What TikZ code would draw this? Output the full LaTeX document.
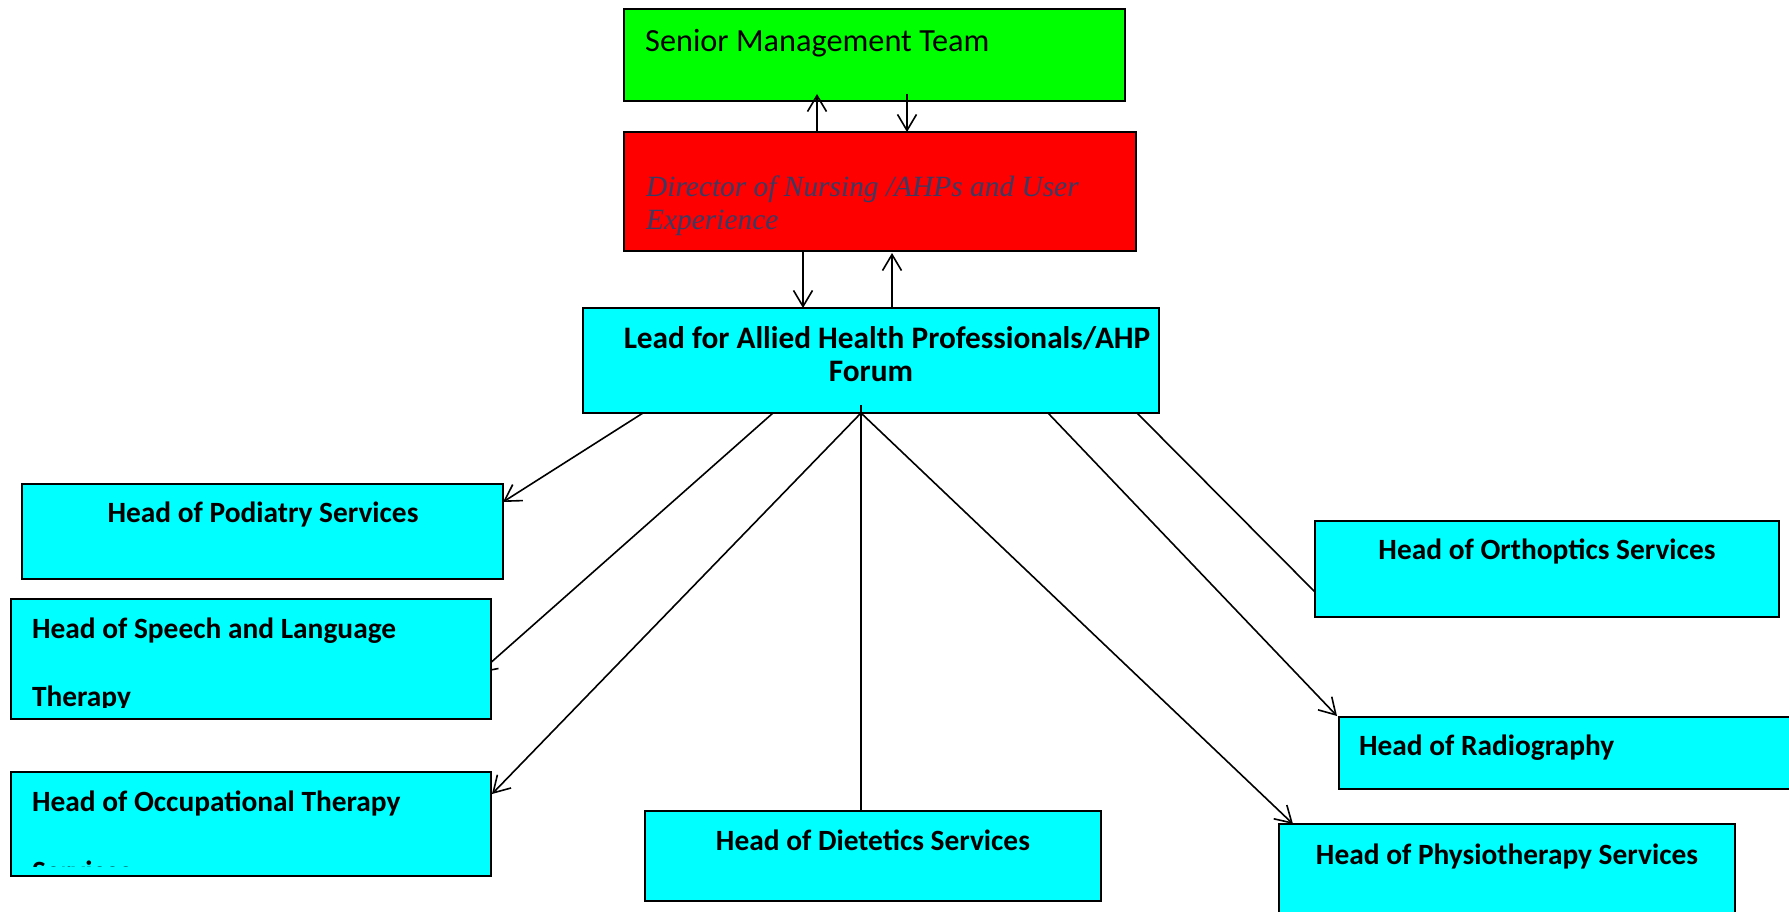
\documentclass[tikz,border=0pt]{standalone}
\usepackage{fontspec}
\setmainfont{Carlito}
\newfontfamily\dirfont{Liberation Serif}
\usetikzlibrary{arrows.meta}
\definecolor{boxgreen}{RGB}{0,255,0}
\definecolor{boxred}{RGB}{255,0,0}
\definecolor{boxcyan}{RGB}{0,255,255}
\definecolor{dirtext}{RGB}{55,60,100}
\begin{document}
\begin{tikzpicture}[x=1pt,y=-1pt,
  box/.style={draw=black, line width=2.2pt, anchor=north west, inner sep=0pt, outer sep=0pt},
  cbox/.style={box, fill=boxcyan},
  lbl/.style={inner sep=0pt, outer sep=0pt, font=\fontsize{29.4}{35}\selectfont\bfseries},
  conn/.style={line width=1.6pt, draw=black},
  arr/.style={conn, -{Straight Barb[length=16pt,width=19pt,line width=1.6pt]}},
]
\useasboundingbox (0,0) rectangle (1789,912);
\clip (0,0) rectangle (1789,912);

% top boxes
\node[box, fill=boxgreen, minimum width=501pt, minimum height=92pt] (smt) at (624,9) {};
\node[box, fill=boxred, minimum width=512pt, minimum height=119pt] (dir) at (624,132) {};
\node[cbox, minimum width=576pt, minimum height=105pt] (lead) at (583,308) {};

\node[inner sep=0pt, anchor=base west, font=\fontsize{32.3}{38}\selectfont] (smtT) at (645,52) {Senior Management Team};
\node[inner sep=0pt, anchor=base west, align=left, text=dirtext,
      font=\dirfont\itshape\fontsize{29.4}{33}\selectfont] (dirT) at (646,230) {Director of Nursing /AHPs and User\\Experience};
\node[lbl, anchor=base, align=center, font=\fontsize{31.3}{33}\selectfont\bfseries] (leadT) at (871,381) {\hspace*{32pt}Lead for Allied Health Professionals/AHP\\Forum};

% speech connector drawn beneath its box
\coordinate (spTip) at (479,673);
\draw[arr] ([xshift=190pt]lead.south west) -- (spTip);

% lower boxes
\node[cbox, minimum width=481pt, minimum height=95pt] (pod) at (22,484) {};
\node[cbox, minimum width=480pt, minimum height=120pt] (speech) at (11,599) {};
\node[cbox, minimum width=480pt, minimum height=104pt] (ot) at (11,772) {};
\node[cbox, minimum width=456pt, minimum height=90pt] (diet) at (645,811) {};
\node[cbox, minimum width=464pt, minimum height=96pt] (ortho) at (1315,521) {};
\node[cbox, minimum width=461pt, minimum height=72pt] (radio) at (1339,717) {};
\node[cbox, minimum width=456pt, minimum height=110pt] (phys) at (1279,824) {};

% labels
\node[lbl, anchor=base] (podT) at (263,522) {Head of Podiatry Services};
\begin{scope}
  \clip (11,599) rectangle (491,707);
  \node[lbl, anchor=base west, align=left, font=\fontsize{29.4}{68}\selectfont\bfseries] (speechT) at (32,706) {Head of Speech and Language\\Therapy};
\end{scope}
\begin{scope}
  \clip (11,772) rectangle (491,866);
  \node[lbl, anchor=base west, align=left, font=\fontsize{29.4}{70}\selectfont\bfseries] (otT) at (32,881) {Head of Occupational Therapy\\Services};
\end{scope}
\node[lbl, anchor=base] (dietT) at (873,850) {Head of Dietetics Services};
\node[lbl, anchor=base] (orthoT) at (1547,559) {Head of Orthoptics Services};
\node[lbl, anchor=base west] (radioT) at (1359,755) {Head of Radiography};
\node[lbl, anchor=base] (physT) at (1507,864) {Head of Physiotherapy Services};

% connectors between top boxes
\draw[arr] ([xshift=193pt]dir.north west) -- ([xshift=193pt,yshift=7pt]smt.south west);
\draw[arr] ([xshift=283pt,yshift=7pt]smt.south west) -- ([xshift=283pt]dir.north west);
\draw[arr] ([xshift=179pt]dir.south west) -- ([xshift=220pt]lead.north west);
\draw[arr] ([xshift=309pt]lead.north west) -- ([xshift=268pt,yshift=-2pt]dir.south west);

% connectors from lead
\draw[arr] ([xshift=60pt]lead.south west) -- ([yshift=-18pt]pod.north east);
\draw[arr] ([xshift=278pt]lead.south west) -- ([xshift=1pt,yshift=-22pt]ot.north east);
\draw[conn] ([xshift=278pt,yshift=8pt]lead.south west) -- ([xshift=216pt]diet.north west);
\draw[arr] ([xshift=278pt]lead.south west) -- ([xshift=14pt]phys.north west);
\draw[arr] ([xshift=465pt]lead.south west) -- ([xshift=-2pt,yshift=1pt]radio.north west);
\draw[conn] ([xshift=554pt]lead.south west) -- ([yshift=-71pt]ortho.north west);
\end{tikzpicture}
\end{document}
